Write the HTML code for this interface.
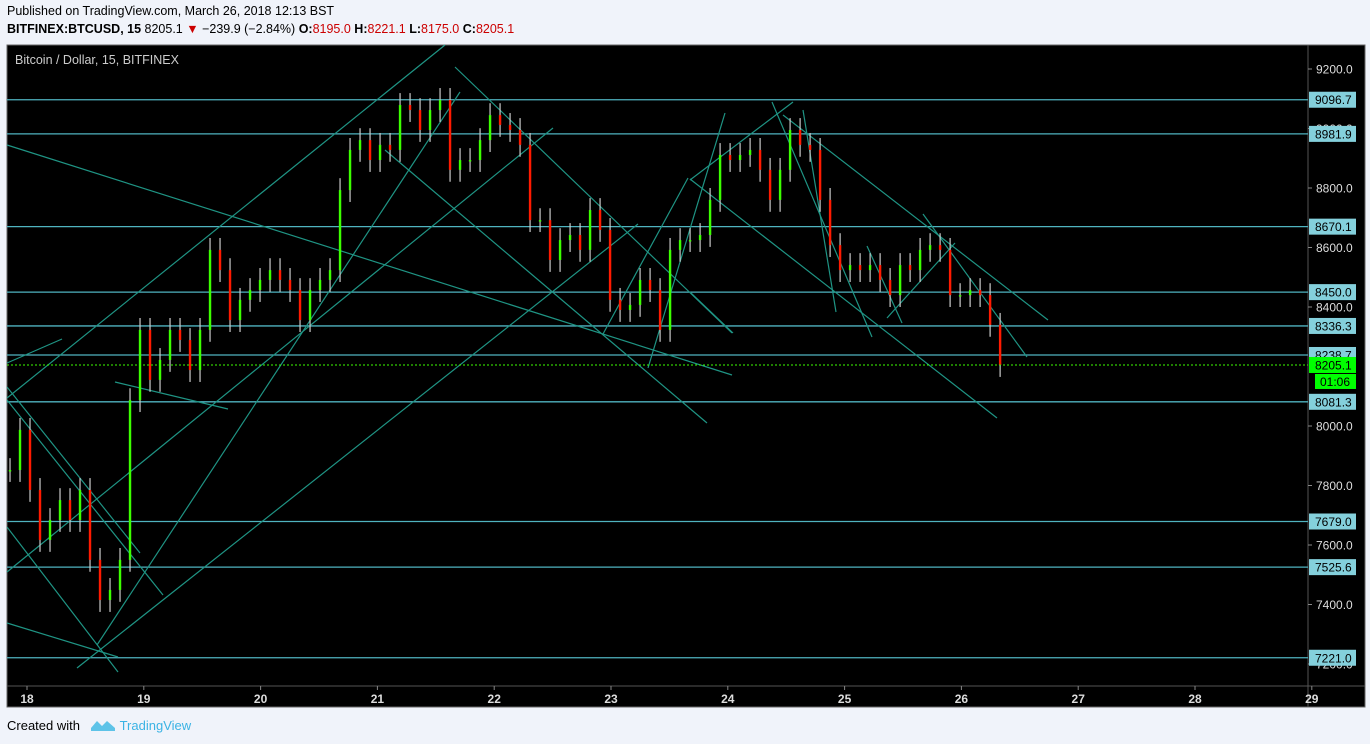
<!DOCTYPE html>
<html><head><meta charset="utf-8"><style>
body{margin:0;background:#f0f3fa;font-family:"Liberation Sans",sans-serif;}
#wrap{position:relative;width:1370px;height:744px;overflow:hidden;}
.hdr{position:absolute;left:7px;font-size:12.5px;color:#000;white-space:nowrap}
.red{color:#c00}
</style></head><body>
<div id="wrap">
<div class="hdr" style="top:4px">Published on TradingView.com, March 26, 2018 12:13 BST</div>
<div class="hdr" style="top:22px"><b>BITFINEX:BTCUSD, 15</b> 8205.1 <span class="red">▼</span> −239.9 (−2.84%) <b>O:</b><span class="red">8195.0</span> <b>H:</b><span class="red">8221.1</span> <b>L:</b><span class="red">8175.0</span> <b>C:</b><span class="red">8205.1</span></div>
<svg id="chart" width="1370" height="744" style="position:absolute;left:0;top:0"></svg>
<div class="hdr" style="top:718px;font-size:13px">Created with <svg width="26" height="14" style="vertical-align:-2px;margin:0 4px 0 6px"><path d="M1 10 L7 3 L12 8 L17 3 L25 10 L25 13 L1 13Z" fill="#5ec3e8"/></svg><span style="color:#3bb3e4">TradingView</span></div>
</div>
<script>
const closes=[7852,7987,7785,7617,7684,7751,7684,7785,7550,7415,7449,7550,8087,8323,8155,8222,8323,8289,8188,8323,8592,8524,8356,8424,8457,8491,8524,8491,8457,8356,8457,8491,8524,8793,8928,8961,8894,8945,8928,9079,9062,8995,9062,9096,8861,8894,8894,8961,9045,9012,8995,8945,8692,8692,8558,8625,8642,8592,8726,8659,8424,8390,8407,8491,8457,8323,8592,8625,8625,8642,8760,8911,8894,8911,8928,8861,8760,8861,8995,8945,8928,8760,8608,8524,8541,8524,8541,8491,8440,8541,8524,8592,8608,8592,8440,8440,8457,8440,8340,8205];
const startHour=-3.49;const stepHours=2.055;
const levels=[9096.7,8981.9,8670.1,8450.0,8336.3,8238.7,8081.3,7679.0,7525.6,7221.0];
const priceTicks=[9200,9000,8800,8600,8400,8000,7800,7600,7400,7200];
const dayTicks=[18,19,20,21,22,23,24,25,26,27,28,29];
const lastPrice=8205.1;
const NS="http://www.w3.org/2000/svg";
const svg=document.getElementById('chart');
const L=7,T=45,R=1308,B=686;
const y=p=>69+(9200-p)*0.2975;
const xh=h=>27+h/24*116.8;
function mk(t,a,parent){const e=document.createElementNS(NS,t);for(const k in a)e.setAttribute(k,a[k]);(parent||svg).appendChild(e);return e;}
const bg=mk('rect',{x:L,y:T,width:1358,height:662,fill:'#000',stroke:'#666'});


mk('line',{x1:R,y1:T,x2:R,y2:707,stroke:'#555'});
mk('line',{x1:L,y1:B,x2:1365,y2:B,stroke:'#555'});
const ttl=mk('text',{x:15,y:64,fill:'#ccc','font-size':12.5});ttl.textContent='Bitcoin / Dollar, 15, BITFINEX';


levels.forEach(v=>{const l=mk('line',{x1:L,y1:y(v),x2:R,y2:y(v),stroke:'#4fb3bf','stroke-width':1.3});

});
const tl=[[7,145,732,375],[7,398,445,45],[7,363,62,339],[115,382,228,409],[77,668,638,224],[97,645,460,92],[7,572,553,128],[455,67,732,333],[385,150,707,423],[648,368,725,113],[603,334,688,178],[690,180,793,102],[690,179,997,418],[783,115,1048,320],[772,102,872,337],[803,110,836,312],[867,246,902,323],[923,214,1027,357],[887,318,955,243],[7,387,140,553],[7,400,163,595],[7,527,118,672],[7,623,118,657],[690,292,733,333]];
tl.forEach(a=>{const l=mk('line',{x1:a[0],y1:a[1],x2:a[2],y2:a[3],stroke:'#1f9484','stroke-width':1.2});

});
closes.forEach((c,i)=>{const o=i?closes[i-1]:c;const x=xh(startHour+i*stepHours);
const hi=Math.max(o,c)+40,lo=Math.min(o,c)-40;
const w=mk('line',{x1:x,y1:y(hi),x2:x,y2:y(lo),stroke:'#ccc','stroke-width':1.2});


const top=y(Math.max(o,c)),h=Math.max(1.5,Math.abs(y(o)-y(c)));
const b=mk('rect',{x:x-1.2,y:top,width:2.4,height:h,fill:c>=o?'#3cff00':'#ff1a00'});

});
const cp=mk('line',{x1:L,y1:y(lastPrice),x2:R,y2:y(lastPrice),stroke:'#3cff00','stroke-dasharray':'2,2'});


priceTicks.forEach(v=>{mk('line',{x1:R,y1:y(v),x2:R+4,y2:y(v),stroke:'#888'});
const t=mk('text',{x:1316,y:y(v)+4.5,fill:'#ddd','font-size':12});t.textContent=v.toFixed(1);

});
levels.forEach(v=>{const g=mk('g',{});


mk('rect',{x:1309,y:y(v)-8,width:47,height:16,fill:'#84d0dc'},g);
const t=mk('text',{x:1315,y:y(v)+4.5,fill:'#000','font-size':12},g);t.textContent=v.toFixed(1);});
const cg=mk('g',{});


mk('rect',{x:1309,y:y(lastPrice)-8,width:47,height:16,fill:'#00ff00'},cg);
mk('text',{x:1315,y:y(lastPrice)+4.5,fill:'#000','font-size':12},cg).textContent=lastPrice.toFixed(1);
mk('rect',{x:1315,y:y(lastPrice)+9,width:41,height:15,fill:'#00ff00'},cg);
mk('text',{x:1320,y:y(lastPrice)+21,fill:'#000','font-size':12},cg).textContent='01:06';
dayTicks.forEach(d=>{const x=xh((d-18)*24);mk('line',{x1:x,y1:B,x2:x,y2:B+4,stroke:'#888'});
const t=mk('text',{x:x,y:703,fill:'#ddd','font-size':12,'text-anchor':'middle','font-weight':'bold'});t.textContent=d;

});
</script>
</body></html>
